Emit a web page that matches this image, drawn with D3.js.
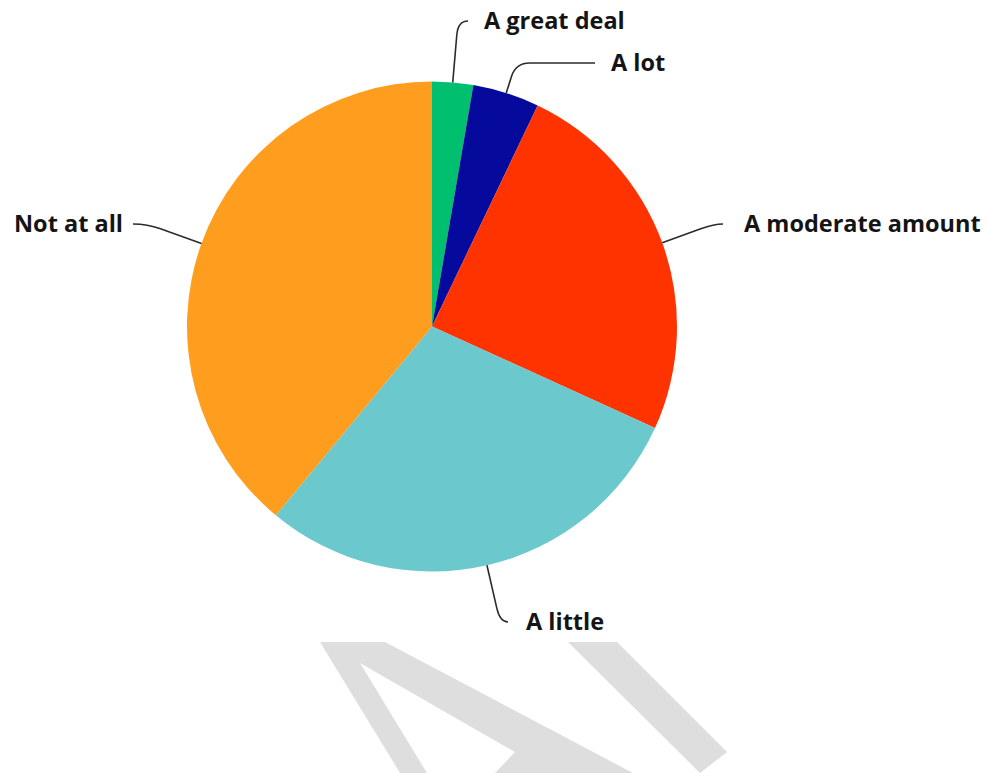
<!DOCTYPE html>
<html>
<head>
<meta charset="utf-8">
<script src="https://cdn.jsdelivr.net/npm/d3@7"></script>
<style>
  html, body { margin: 0; padding: 0; background: #fff; }
  svg { display: block; }
  .lbl { font-family: "Open Sans", "Noto Sans", sans-serif; font-weight: 700; font-size: 23.5px; fill: #141414; }
</style>
</head>
<body>
<svg id="chart" width="987" height="773"></svg>
<script>
// Survey answers, in pie order (clockwise from 12 o'clock)
const categories = ["A great deal", "A lot", "A moderate amount", "A little", "Not at all"];
// Share of respondents, percent
const shares = [2.7, 4.4, 24.7, 29.2, 39.0];
const sliceColors = ["#00bf6f", "#050a9c", "#ff3300", "#6bc8cd", "#ff9d1e"];

// Label placement: text anchor point, end of the leader line, text alignment
const labelPos = [
  { x: 484, y: 21,  endX: 468, anchor: "start" },
  { x: 611, y: 63,  endX: 595, anchor: "start" },
  { x: 744, y: 224, endX: 723, anchor: "start" },
  { x: 526, y: 622, endX: 508, anchor: "start" },
  { x: 123, y: 224, endX: 133, anchor: "end" }
];

const W = 987, H = 773;
const cx = 432, cy = 326.5, R = 245;

const svg = d3.select("#chart");

// light grey watermark strokes along the bottom edge
const wm = svg.append("g").attr("fill", "#dedede");
const ring = d3.path();
[[320, 642], [385, 642], [633, 773], [400, 773]].forEach((p, i) => i ? ring.lineTo(p[0], p[1]) : ring.moveTo(p[0], p[1]));
ring.closePath();
[[360, 663], [515, 752], [495, 773], [427, 773]].forEach((p, i) => i ? ring.lineTo(p[0], p[1]) : ring.moveTo(p[0], p[1]));
ring.closePath();
wm.append("path").attr("d", ring.toString()).attr("fill-rule", "evenodd");
wm.append("path").attr("d", d3.line()([[568, 642], [617, 642], [727, 752], [700, 773]]) + "Z");

const data = categories.map((c, i) => ({ name: c, value: shares[i], color: sliceColors[i], pos: labelPos[i] }));

const pie = d3.pie().sort(null).value(d => d.value).startAngle(0).endAngle(2 * Math.PI);
const arc = d3.arc().innerRadius(0).outerRadius(R);
const arcs = pie(data);

const g = svg.append("g").attr("transform", `translate(${cx},${cy})`);

g.selectAll("path.slice")
  .data(arcs)
  .join("path")
  .attr("class", "slice")
  .attr("d", arc)
  .attr("fill", d => d.data.color);

// leader lines: leave the rim radially, bend round to the label's row
const leaders = svg.append("g").attr("fill", "none").attr("stroke", "#2b2b2b").attr("stroke-width", 1.6);

arcs.forEach(a => {
  const mid = (a.startAngle + a.endAngle) / 2;
  const ux = Math.sin(mid), uy = -Math.cos(mid);
  const p0 = [cx + R * ux, cy + R * uy];
  const ly = a.data.pos.y;
  const t = (ly - p0[1]) / uy;            // distance along the radius to the label row
  const corner = [p0[0] + t * ux, ly];
  const rr = Math.min(14, t * 0.45);
  const dir = Math.sign(a.data.pos.endX - corner[0]) || 1;
  const horiz = Math.abs(a.data.pos.endX - corner[0]);
  const bendEnd = [corner[0] + dir * Math.min(rr, horiz), ly];
  const p = d3.path();
  p.moveTo(p0[0], p0[1]);
  p.lineTo(corner[0] - ux * rr, corner[1] - uy * rr);
  p.quadraticCurveTo(corner[0], corner[1], bendEnd[0], bendEnd[1]);
  p.lineTo(a.data.pos.endX, ly);
  leaders.append("path").attr("d", p.toString());
});

svg.append("g")
  .selectAll("text")
  .data(data)
  .join("text")
  .attr("class", "lbl")
  .attr("x", d => d.pos.x)
  .attr("y", d => d.pos.y)
  .attr("dy", "0.35em")
  .attr("text-anchor", d => d.pos.anchor)
  .text(d => d.name);
</script>
</body>
</html>
